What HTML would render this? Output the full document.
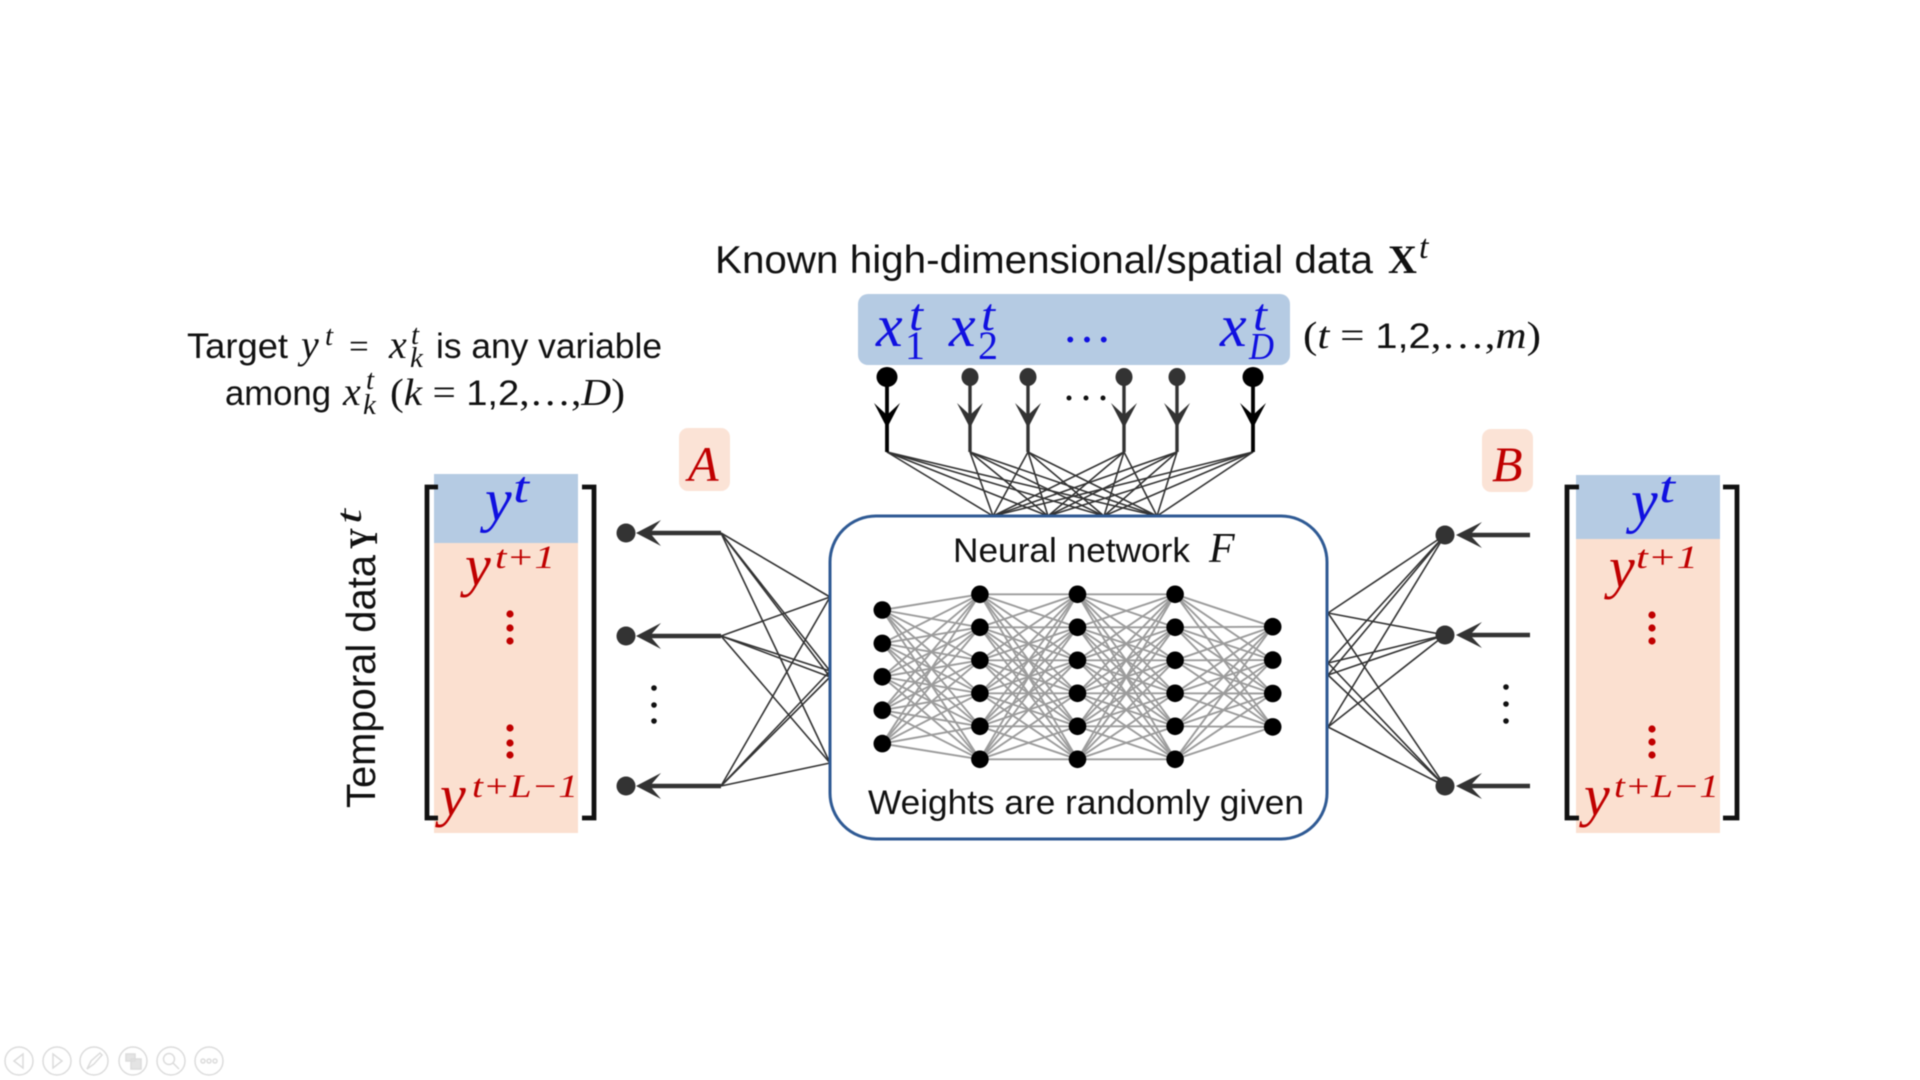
<!DOCTYPE html>
<html lang="en">
<head>
<meta charset="utf-8">
<title>Neural network mapping from spatial data to temporal data</title>
<style>
html,body{margin:0;padding:0;background:#fff;width:1920px;height:1080px;overflow:hidden}
svg{display:block;filter:blur(.6px)}
.s{font-family:"Liberation Sans",sans-serif;fill:#111}
.m{font-family:"Liberation Serif",serif;font-style:italic;fill:#111}
.r{font-family:"Liberation Serif",serif;fill:#111}
.b{fill:#1010e0}
.d{fill:#c00000}
</style>
</head>
<body>
<svg id="diagram" xmlns="http://www.w3.org/2000/svg" width="1920" height="1080" viewBox="0 0 1920 1080">

<!-- coloured panels -->
<rect x="858" y="294" width="432" height="71" rx="10" fill="#b5cbe3"/>
<rect x="679" y="428" width="51" height="63" rx="9" fill="#fbe3d6"/>
<rect x="1482" y="429" width="51" height="63" rx="9" fill="#fbe3d6"/>
<rect x="434" y="474" width="144" height="69" fill="#b5cbe3"/>
<rect x="434" y="543" width="144" height="290" fill="#fbe0d0"/>
<rect x="1576" y="475" width="144" height="64" fill="#b5cbe3"/>
<rect x="1576" y="539" width="144" height="294" fill="#fbe0d0"/>

<!-- title -->
<text class="s" x="715" y="273" font-size="39" textLength="658" lengthAdjust="spacingAndGlyphs">Known high-dimensional/spatial data</text>
<text class="r" x="1388" y="273" font-size="40" font-weight="bold">X</text>
<text class="m" x="1419" y="258" font-size="34">t</text>

<!-- spatial variables -->
<g>
<text class="m b" x="876" y="346" font-size="60">x</text>
<text class="m b" x="909" y="330" font-size="46" textLength="14" lengthAdjust="spacingAndGlyphs">t</text>
<text class="r b" x="905" y="359" font-size="40">1</text>
<text class="m b" x="949" y="346" font-size="60">x</text>
<text class="m b" x="981" y="330" font-size="46" textLength="14" lengthAdjust="spacingAndGlyphs">t</text>
<text class="r b" x="978" y="359" font-size="40">2</text>
<text class="r b" x="1062" y="342" font-size="50" textLength="44">…</text>
<text class="m b" x="1220" y="346" font-size="60">x</text>
<text class="m b" x="1253" y="330" font-size="46" textLength="14" lengthAdjust="spacingAndGlyphs">t</text>
<text class="m b" x="1249" y="359" font-size="38" textLength="25" lengthAdjust="spacingAndGlyphs">D</text>
</g>
<text class="r" x="1303" y="348" font-size="38" textLength="238" lengthAdjust="spacingAndGlyphs">(<tspan class="m">t</tspan> = <tspan class="s" font-size="35">1,2</tspan>,…,<tspan class="m">m</tspan>)</text>

<!-- target caption -->
<g>
<text class="s" x="187" y="358" font-size="35" textLength="101" lengthAdjust="spacingAndGlyphs">Target</text>
<text class="m" x="301" y="358" font-size="40">y</text>
<text class="m" x="325" y="345" font-size="29">t</text>
<text class="r" x="349" y="358" font-size="35">=</text>
<text class="m" x="389" y="358" font-size="40">x</text>
<text class="m" x="411" y="344" font-size="29">t</text>
<text class="m" x="410" y="367" font-size="29">k</text>
<text class="s" x="436" y="358" font-size="35" textLength="226" lengthAdjust="spacingAndGlyphs">is any variable</text>
<text class="s" x="225" y="405" font-size="35" textLength="106" lengthAdjust="spacingAndGlyphs">among</text>
<text class="m" x="343" y="405" font-size="40">x</text>
<text class="m" x="366" y="389" font-size="29">t</text>
<text class="m" x="363" y="414" font-size="29">k</text>
<text class="r" x="390" y="405" font-size="38" textLength="235" lengthAdjust="spacingAndGlyphs">(<tspan class="m">k</tspan> = <tspan class="s" font-size="35">1,2</tspan>,…,<tspan class="m">D</tspan>)</text>
</g>

<text class="m d" x="688" y="481" font-size="50">A</text>
<text class="m d" x="1492" y="481" font-size="50">B</text>

<!-- temporal axis label -->
<g>
<text class="s" transform="translate(375,808) rotate(-90)" font-size="41" textLength="253" lengthAdjust="spacingAndGlyphs">Temporal data</text>
<text class="r" transform="translate(377,549) rotate(-90)" font-size="40" font-weight="bold" textLength="21" lengthAdjust="spacingAndGlyphs">Y</text>
<text class="m" transform="translate(361,524) rotate(-90)" font-size="36" textLength="15" lengthAdjust="spacingAndGlyphs">t</text>
</g>

<!-- left matrix text -->
<g>
<text class="m b" x="485" y="520" font-size="60">y</text>
<text class="m b" x="513" y="502" font-size="44" textLength="16" lengthAdjust="spacingAndGlyphs">t</text>
<text class="m d" x="465" y="585" font-size="58">y</text>
<text class="m d" x="495" y="568" font-size="33" textLength="60" lengthAdjust="spacingAndGlyphs">t+1</text>
<text class="m d" x="440" y="815" font-size="58">y</text>
<text class="m d" x="472" y="797" font-size="33" textLength="106" lengthAdjust="spacingAndGlyphs">t+L−1</text>
</g>

<!-- right matrix text -->
<g>
<text class="m b" x="1631" y="521" font-size="60">y</text>
<text class="m b" x="1659" y="502" font-size="44" textLength="16" lengthAdjust="spacingAndGlyphs">t</text>
<text class="m d" x="1609" y="587" font-size="58">y</text>
<text class="m d" x="1636" y="568" font-size="33" textLength="62" lengthAdjust="spacingAndGlyphs">t+1</text>
<text class="m d" x="1584" y="815" font-size="58">y</text>
<text class="m d" x="1614" y="797" font-size="33" textLength="105" lengthAdjust="spacingAndGlyphs">t+L−1</text>
</g>

<!-- brackets -->
<path d="M438 487H427V818H438" fill="none" stroke="#111" stroke-width="4.8"/>
<path d="M582 487H594V818H582" fill="none" stroke="#111" stroke-width="4.8"/>
<path d="M1579 487H1567V818H1579" fill="none" stroke="#111" stroke-width="4.8"/>
<path d="M1723 487H1737V818H1723" fill="none" stroke="#111" stroke-width="4.8"/>

<!-- groups filled by the script -->
<g id="fans"></g>
<g id="dots"></g>
<g id="ports"></g>

<!-- network box -->
<rect x="830" y="516" width="497" height="323" rx="46" fill="#fff" stroke="#2f5a94" stroke-width="3"/>
<text class="s" x="953" y="562" font-size="34" textLength="237" lengthAdjust="spacingAndGlyphs">Neural network</text>
<text class="m" x="1209" y="562" font-size="42">F</text>
<g id="nn"></g>
<text class="s" x="868" y="814" font-size="34" textLength="436" lengthAdjust="spacingAndGlyphs">Weights are randomly given</text>

<!-- presentation toolbar -->
<g transform="translate(0,-5)" fill="none" stroke="#dcdcdc" stroke-width="1.5">
<g><circle cx="19" cy="1066" r="14"/><path d="M23 1059L14 1066L23 1073Z"/></g>
<g><circle cx="57" cy="1066" r="14"/><path d="M53 1059L62 1066L53 1073Z"/></g>
<g><circle cx="94" cy="1066" r="14"/><path d="M87 1074L91 1066L100 1058L102 1060L94 1069Z"/></g>
<g><circle cx="133" cy="1066" r="14"/><path d="M126 1059h9v7h-9zM131 1064h10v10h-10z" fill="#e4e4e4"/></g>
<g><circle cx="171" cy="1066" r="14"/><circle cx="169" cy="1064" r="5.5"/><path d="M173 1068L179 1074"/></g>
<g><circle cx="209" cy="1066" r="14"/><circle cx="203" cy="1066" r="2"/><circle cx="209" cy="1066" r="2"/><circle cx="215" cy="1066" r="2"/></g>
</g>
</svg>

<script>
// Network structure
const layerSizes = [5, 6, 6, 6, 4];
const inputColumns = ['x1', 'x2', 'x3', 'x4', 'x5', 'xD'];

const NS = 'http://www.w3.org/2000/svg';
function mk(tag, parent, attrs) {
  const el = document.createElementNS(NS, tag);
  for (const k in attrs) el.setAttribute(k, attrs[k]);
  parent.appendChild(el);
  return el;
}

// Layout functions
const layerX = l => 882.3 + l * 97.6;
const nodeY = (l, i) => {
  const n = layerSizes[l];
  const step = n === 6 ? 33 : 33.4;
  return 676.8 + (i - (n - 1) / 2) * step;
};

const nn = document.getElementById('nn');
layerSizes.forEach((n, l) => {
  if (l === layerSizes.length - 1) return;
  for (let i = 0; i < n; i++) {
    for (let j = 0; j < layerSizes[l + 1]; j++) {
      const e = mk('line', nn, {
        x1: layerX(l), y1: nodeY(l, i), x2: layerX(l + 1), y2: nodeY(l + 1, j),
        stroke: '#9c9c9c', 'stroke-width': 1.9
      });
      
      
    }
  }
});
layerSizes.forEach((n, l) => {
  for (let i = 0; i < n; i++) {
    const c = mk('circle', nn, { cx: layerX(l), cy: nodeY(l, i), r: 8.8, fill: '#000' });
    
    
  }
});

// Top inputs
const topX = [887, 970, 1028, 1124, 1177, 1253];
const topTargets = [993, 1048, 1104, 1157];
const fans = document.getElementById('fans');
const ports = document.getElementById('ports');
topX.forEach((x, k) => {
  const edge = k === 0 || k === topX.length - 1;
  const col = edge ? '#000' : '#333';
  topTargets.forEach(t => {
    const f = mk('line', fans, { x1: x, y1: 452, x2: t, y2: 516, stroke: '#333', 'stroke-width': 1.6 });
    
    
  });
  const s = mk('line', ports, { x1: x, y1: 377, x2: x, y2: 452, stroke: col, 'stroke-width': edge ? 3.8 : 3.4 });
  
  
  const h = mk('path', ports, { d: `M${x} 428L${x - 13} 403L${x} 415L${x + 13} 403Z`, fill: col });
  
  
  const c = mk('ellipse', ports, { cx: x, cy: 377, rx: edge ? 10.5 : 8.5, ry: edge ? 10 : 9, fill: col });
  
  
});

// Output arrows
const rowsLeft = [533, 636, 786];
const rowsRight = [535, 635, 786];
const leftBoxY = [597, 671, 677, 763];
const rightBoxY = [613, 663, 675, 727];
rowsLeft.forEach(y => {
  leftBoxY.forEach(t => {
    const f = mk('line', fans, { x1: 721, y1: y, x2: 830, y2: t, stroke: '#333', 'stroke-width': 1.6 });
    
    
  });
  const s = mk('line', ports, { x1: 645, y1: y, x2: 721, y2: y, stroke: '#333', 'stroke-width': 4.5 });
  
  
  const h = mk('path', ports, { d: `M636 ${y}L661 ${y - 13}L650 ${y}L661 ${y + 13}Z`, fill: '#333' });
  
  
  const c = mk('circle', ports, { cx: 626, cy: y, r: 9.5, fill: '#333' });
  
  
});
rowsRight.forEach(y => {
  rightBoxY.forEach(t => {
    const f = mk('line', fans, { x1: 1445, y1: y, x2: 1328, y2: t, stroke: '#333', 'stroke-width': 1.6 });
    
    
  });
  const s = mk('line', ports, { x1: 1470, y1: y, x2: 1530, y2: y, stroke: '#333', 'stroke-width': 4.5 });
  
  
  const h = mk('path', ports, { d: `M1456 ${y}L1482 ${y - 13}L1470 ${y}L1482 ${y + 13}Z`, fill: '#333' });
  
  
  const c = mk('circle', ports, { cx: 1445, cy: y, r: 9.5, fill: '#333' });
  
  
});

// Vertical and horizontal ellipses
const dots = document.getElementById('dots');
function vdots(x, ys, r, fill) {
  ys.forEach(y => {
    const d = mk('circle', dots, { cx: x, cy: y, r: r, fill: fill });
    
    
  });
}
vdots(510, [614, 628, 641], 3.6, '#c00000');
vdots(510, [728, 743, 755], 3.6, '#c00000');
vdots(1652, [615, 628, 641], 3.6, '#c00000');
vdots(1652, [729, 742, 755], 3.6, '#c00000');
vdots(654, [688, 705, 721], 2.8, '#111');
vdots(1506, [687, 704, 721], 2.8, '#111');
[1069, 1086, 1103].forEach(x => {
  const d = mk('circle', dots, { cx: x, cy: 398, r: 2.5, fill: '#111' });
  
  
});
</script>
</body>
</html>
